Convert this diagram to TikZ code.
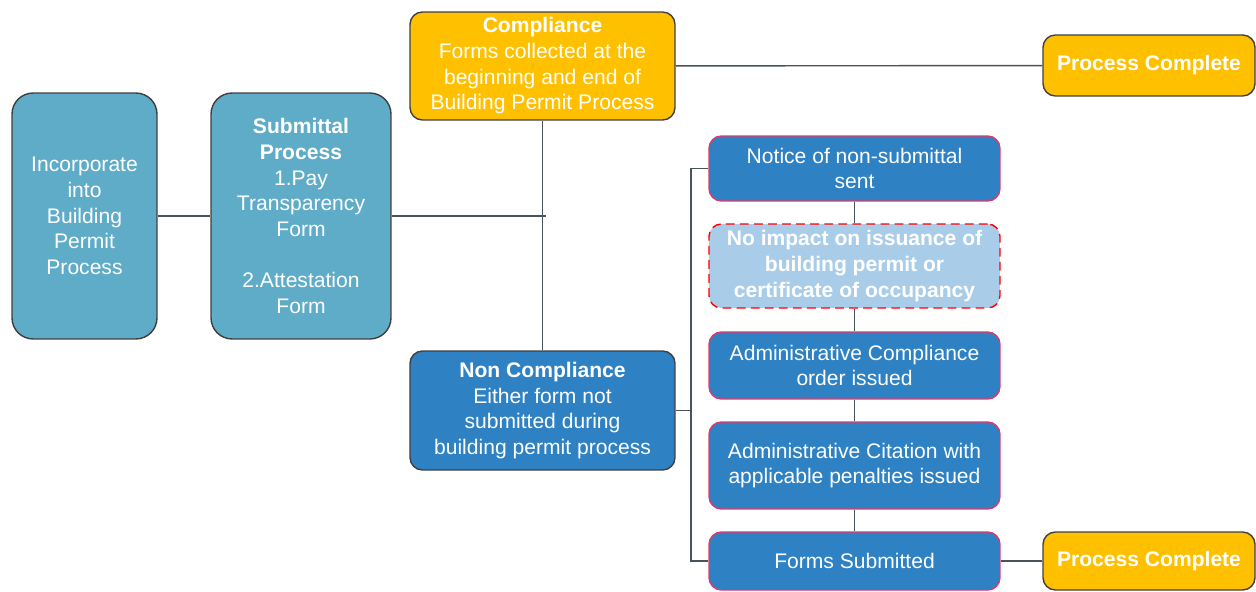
\documentclass[tikz,border=0pt]{standalone}
\usepackage{fontspec}
\setmainfont{Liberation Sans}
\usepackage{xcolor}
\usepackage{tikz}
\usetikzlibrary{positioning}

\definecolor{teal}{HTML}{5FACC8}
\definecolor{gold}{HTML}{FFC000}
\definecolor{steel}{HTML}{2E81C3}
\definecolor{pale}{HTML}{A9CDE8}
\definecolor{rose}{HTML}{DC3A6E}
\definecolor{rim}{HTML}{3F3F3F}
\definecolor{wire}{HTML}{48535A}

\begin{document}
\begin{tikzpicture}[
    x=0.02cm, y=-0.02cm,
    base/.style={rounded corners=7pt, align=center, text=white, inner sep=0pt,
        font=\fontsize{12}{14.6}\selectfont},
    tealbox/.style={base, draw=rim, fill=teal, thick, rounded corners=12pt,
        minimum width=2.9cm, minimum height=4.92cm},
    goldbox/.style={base, draw=rim, fill=gold, thick},
    bluebox/.style={base, draw=rim, fill=steel, thick},
    stepbox/.style={base, draw=rose, fill=steel, thick, minimum width=5.82cm},
    softbox/.style={base, draw=red, fill=pale, thick, dashed, dash pattern=on 5pt off 3pt,
        minimum width=5.82cm, font=\fontsize{12}{14.6}\selectfont\bfseries},
    conn/.style={thick, wire}
]
    \useasboundingbox (0,0) rectangle (1256,591);

    \node[tealbox] (incorp) at (84.5, 216) {Incorporate\\into\\Building\\Permit\\Process};
    \node[tealbox, minimum width=3.6cm] (submit) at (301, 216)
        {\textbf{Submittal}\\\textbf{Process}\\1.Pay\\Transparency\\Form\\[14.6pt]2.Attestation\\Form};
    \node[goldbox, minimum width=5.3cm, minimum height=2.16cm] (comply) at (542.5, 66)
        {\textbf{Compliance}\\Forms collected at the\\beginning and end of\\Building Permit Process};
    \node[goldbox, minimum width=4.24cm, minimum height=1.22cm, font=\fontsize{12}{14.6}\selectfont\bfseries]
        (doneA) at (1149, 65.5) {Process Complete};
    \node[bluebox, minimum width=5.3cm, minimum height=2.38cm] (noncomp) at (542.5, 410.5)
        {\textbf{Non Compliance}\\Either form not\\submitted during\\building permit process};

    \node[stepbox, minimum height=1.3cm] (notice) at (854.5, 168.5) {Notice of non-submittal\\sent};
    \node[softbox, minimum height=1.68cm] (noimpact) at (854.5, 266)
        {No impact on issuance of\\building permit or\\certificate of occupancy};
    \node[stepbox, minimum height=1.34cm] (order) at (854.5, 365.5) {Administrative Compliance\\order issued};
    \node[stepbox, minimum height=1.74cm] (citation) at (854.5, 465.5)
        {Administrative Citation with\\applicable penalties issued};
    \node[stepbox, minimum height=1.16cm] (forms) at (854.5, 561) {Forms Submitted};
    \node[goldbox, minimum width=4.24cm, minimum height=1.16cm, font=\fontsize{12}{14.6}\selectfont\bfseries]
        (doneB) at (1149, 561) {Process Complete};

    \coordinate (join) at (546, 216);
    \coordinate (bus) at (691, 410.5);

    \draw[conn] (incorp) -- (submit);
    \draw[conn] (submit) -- (join);
    \draw[conn] (comply) -- (noncomp);
    \draw[conn] (comply) -- (doneA);
    \draw[conn] (noncomp) -- (bus);
    \draw[conn] (notice.west) -| (bus) |- (forms.west);
    \draw[conn] (notice) -- (noimpact);
    \draw[conn] (noimpact) -- (order);
    \draw[conn] (order) -- (citation);
    \draw[conn] (citation) -- (forms);
    \draw[conn] (forms) -- (doneB);
\end{tikzpicture}
\end{document}
